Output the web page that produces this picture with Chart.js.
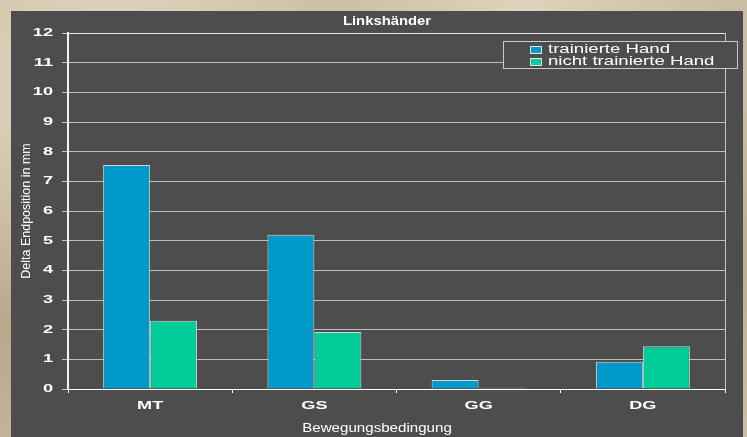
<!DOCTYPE html>
<html>
<head>
<meta charset="utf-8">
<script src="https://cdn.jsdelivr.net/npm/chart.js@4.4.1/dist/chart.umd.min.js"></script>
<style>
  html, body { margin: 0; padding: 0; }
  body {
    width: 747px; height: 437px; overflow: hidden; position: relative;
    background-color: #cbbda3;
    background-image:
      radial-gradient(circle at 15% 20%, rgba(255,250,235,0.45), transparent 35%),
      radial-gradient(circle at 3% 75%, rgba(150,125,90,0.35), transparent 25%),
      radial-gradient(circle at 70% 2%, rgba(235,225,205,0.6), transparent 30%),
      radial-gradient(circle at 99% 60%, rgba(170,150,115,0.4), transparent 20%);
  }
  #panel { position: absolute; left: 11px; top: 11px; width: 732px; height: 426px; background: #4d4d4d; }
</style>
</head>
<body>
<div id="panel"><canvas id="chartLinks"></canvas></div>
<script>
// Linkshänder – Delta Endposition je Bewegungsbedingung
const categories = ['MT', 'GS', 'GG', 'DG'];
const seriesNames = ['trainierte Hand', 'nicht trainierte Hand'];
const trainiert = [7.55, 5.2, 0.3, 0.92];
const nichtTrainiert = [2.3, 1.92, 0.04, 1.44];
const yMin = 0;
const yMax = 12;
const yStep = 1;
const chartTitle = 'Linkshänder';
const xTitle = 'Bewegungsbedingung';
const yTitle = 'Delta Endposition in mm';

const FONT = '"Liberation Sans", Arial, sans-serif';
Chart.defaults.font.family = FONT;
Chart.defaults.color = '#ffffff';

// the original picture is stretched sideways, so text is widened around its anchor
function setStretch(ctx, k) {
    if (!ctx.plainFillText) {
        ctx.plainFillText = ctx.fillText;
        ctx.fillText = function(text, x, y) {
            const kx = this.getTransform().b !== 0 ? 1 : this.stretch;
            if (kx === 1) return this.plainFillText(text, x, y);
            this.save();
            this.translate(x, y);
            this.scale(kx, 1);
            this.plainFillText(text, 0, 0);
            this.restore();
        };
    }
    ctx.stretch = k;
}

const panelPlugin = {
    id: 'panel',
    beforeDraw(chart) {
        setStretch(chart.ctx, 1);
    },
    beforeDatasetsDraw(chart) {
        const { ctx, chartArea } = chart;
        ctx.save();
        ctx.strokeStyle = '#c4c4c4';
        ctx.lineWidth = 1;
        ctx.beginPath();
        ctx.moveTo(Math.round(chartArea.right) + 0.5, chartArea.top);
        ctx.lineTo(Math.round(chartArea.right) + 0.5, chartArea.bottom);
        ctx.stroke();
        ctx.restore();
    },
    afterDatasetsDraw(chart) {
        // tick labels are drawn after the bars (ticks.z = 1)
        setStretch(chart.ctx, 1.65);
    },
    afterDraw(chart) {
        const { ctx, chartArea } = chart;
        const mid = chart.width / 2;
        ctx.save();
        ctx.fillStyle = '#ffffff';
        ctx.textAlign = 'center';
        ctx.textBaseline = 'middle';

        // titles
        ctx.font = 'bold 13px ' + FONT;
        setStretch(ctx, 1.14);
        ctx.fillText(chartTitle, mid + 10, 10);
        ctx.font = '12px ' + FONT;
        setStretch(ctx, 1.26);
        ctx.fillText(xTitle, mid, 418);

        // legend box
        const x = Math.round(chartArea.right) - 222;
        const y = Math.round(chartArea.top) + 8;
        setStretch(ctx, 1);
        ctx.fillStyle = '#4d4d4d';
        ctx.fillRect(x, y, 234, 27);
        ctx.strokeStyle = '#c8c8c8';
        ctx.lineWidth = 1;
        ctx.strokeRect(x + 0.5, y + 0.5, 234, 27);
        ctx.font = '12px ' + FONT;
        ctx.textAlign = 'left';
        chart.data.datasets.forEach(function(ds, i) {
            const ly = y + 8.5 + i * 11.7;
            ctx.fillStyle = ds.backgroundColor;
            ctx.fillRect(x + 27, Math.round(ly - 3.5), 11, 7);
            ctx.strokeStyle = '#e6e6e6';
            ctx.strokeRect(x + 27.5, Math.round(ly - 3.5) + 0.5, 11, 7);
            ctx.fillStyle = '#ffffff';
            setStretch(ctx, 1.55);
            ctx.fillText(ds.label, x + 45, ly);
            setStretch(ctx, 1);
        });
        ctx.restore();
    }
};

new Chart(document.getElementById('chartLinks'), {
    type: 'bar',
    data: {
        labels: categories,
        datasets: [{
            label: seriesNames[0],
            data: trainiert,
            backgroundColor: '#0099cc',
            borderColor: '#d6d6d6',
            borderWidth: 1,
            barPercentage: 1,
            categoryPercentage: 0.572
        }, {
            label: seriesNames[1],
            data: nichtTrainiert,
            backgroundColor: '#00cc99',
            borderColor: '#d6d6d6',
            borderWidth: 1,
            barPercentage: 1,
            categoryPercentage: 0.572
        }]
    },
    options: {
        responsive: true,
        maintainAspectRatio: false,
        animation: false,
        layout: { padding: { top: 22, right: 18, bottom: 0, left: 0 } },
        plugins: {
            legend: { display: false },
            tooltip: { enabled: false },
            title: { display: false }
        },
        scales: {
            x: {
                afterFit: function(s) { s.height = 48; },
                grid: {
                    offset: true,
                    drawOnChartArea: false,
                    drawTicks: true,
                    tickLength: 4,
                    tickColor: '#ffffff'
                },
                border: { display: true, color: '#ffffff', width: 1 },
                ticks: {
                    z: 1,
                    color: '#ffffff',
                    padding: 6,
                    maxRotation: 0,
                    font: { size: 11, weight: 'bold' }
                }
            },
            y: {
                min: yMin,
                max: yMax,
                afterFit: function(s) { s.width = 57; },
                grid: {
                    color: function(c) { return c.tick && c.tick.value === yMax ? '#e8e8e8' : '#bcbcbc'; },
                    tickColor: '#c8c8c8',
                    tickLength: 6,
                    lineWidth: 1
                },
                border: { display: true, color: '#f4f4f4', width: 2 },
                ticks: {
                    z: 1,
                    stepSize: yStep,
                    color: '#ffffff',
                    padding: 9,
                    font: { size: 11, weight: 'bold' }
                },
                title: {
                    display: true,
                    text: yTitle,
                    color: '#ffffff',
                    font: { size: 12.5 },
                    padding: { top: 8.5, bottom: 0 }
                }
            }
        }
    },
    plugins: [panelPlugin]
});
</script>
</body>
</html>
